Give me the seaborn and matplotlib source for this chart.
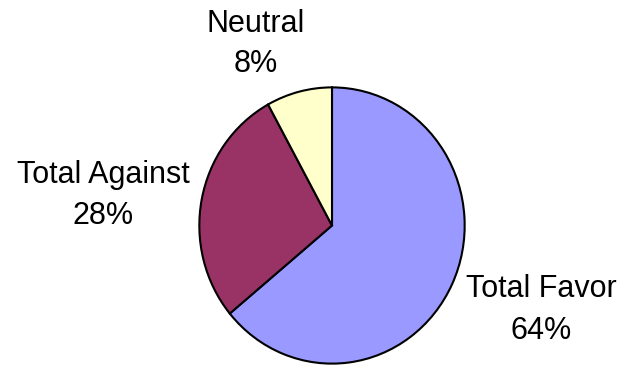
import matplotlib
matplotlib.use("Agg")
import matplotlib.pyplot as plt
import seaborn as sns

# Opinion breakdown
categories = ["Total Favor", "Total Against", "Neutral"]
shares = [64, 28, 8]
colors = ["#9999FF", "#993366", "#FFFFCC"]

sns.set_theme(style="white")
plt.rcParams["font.family"] = ["Liberation Sans", "DejaVu Sans"]

W, H = 624, 369
fig = plt.figure(figsize=(W / 100, H / 100), dpi=100)
fig.patch.set_facecolor("white")

# Pie occupies a pixel box: x 198..466, y 86..365 (from top)
left, right, top, bottom = 198, 466, 86, 365
ax = fig.add_axes([left / W, (H - bottom) / H, (right - left) / W, (bottom - top) / H])
ax.pie(shares, colors=colors, startangle=90, counterclock=False,
       wedgeprops=dict(edgecolor="black", linewidth=1.5), radius=1.0)
ax.set_aspect("auto")
ax.set_xlim(-1.01, 1.01)
ax.set_ylim(-1.01, 1.01)
ax.axis("off")

# Label placement: (center x, first baseline, second baseline) in pixels from top-left
label_pos = {
    "Neutral": (256, 32, 72),
    "Total Against": (103, 183, 224),
    "Total Favor": (541, 297, 339),
}
fs = 22
for name, val in zip(categories, shares):
    cx, b1, b2 = label_pos[name]
    fig.text(cx / W, 1 - b1 / H, name, ha="center", va="baseline", fontsize=fs, color="black")
    fig.text(cx / W, 1 - b2 / H, f"{val}%", ha="center", va="baseline", fontsize=fs, color="black")

fig.savefig("out.png", dpi=100, facecolor="white")
